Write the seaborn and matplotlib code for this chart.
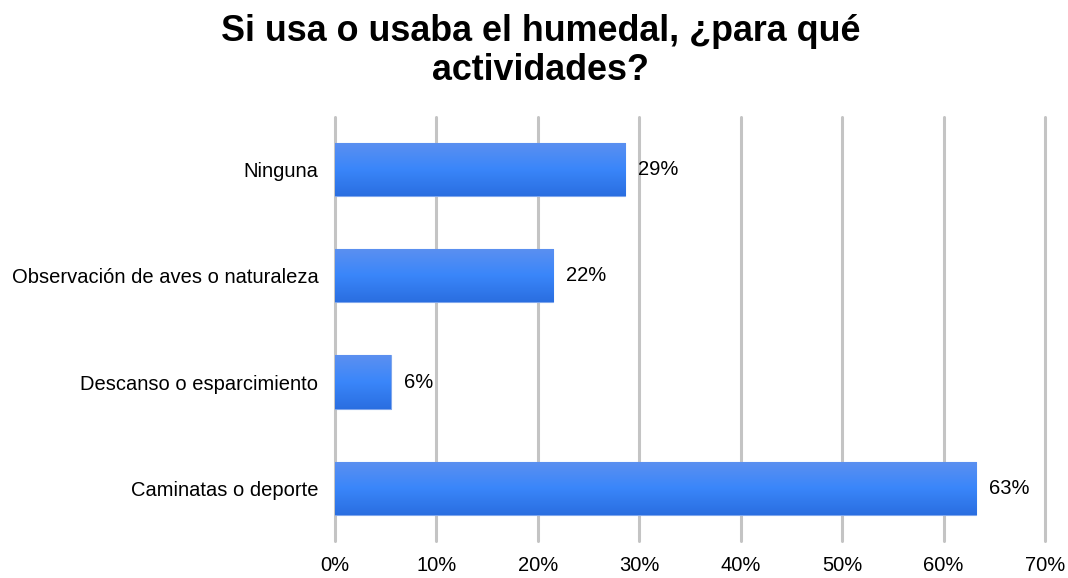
import matplotlib
matplotlib.use("Agg")
import matplotlib.pyplot as plt
import seaborn as sns
import numpy as np
import pandas as pd
from matplotlib.colors import LinearSegmentedColormap

categories = ["Ninguna", "Observación de aves o naturaleza", "Descanso o esparcimiento", "Caminatas o deporte"]
values = [28.6, 21.5, 5.5, 63.2]
labels = ["29%", "22%", "6%", "63%"]
xticks = [0, 10, 20, 30, 40, 50, 60, 70]
xticklabels = ["0%", "10%", "20%", "30%", "40%", "50%", "60%", "70%"]
title = "Si usa o usaba el humedal, ¿para qué\nactividades?"

sns.set_theme(style="white")
plt.rcParams['font.family'] = ['Liberation Sans', 'DejaVu Sans']

df = pd.DataFrame({"cat": categories, "val": values})

fig = plt.figure(figsize=(10.68, 5.78), dpi=100)
ax = fig.add_axes([0.3137, 0.064, 0.9785 - 0.3137, 0.7976 - 0.064])

sns.barplot(data=df, x="val", y="cat", ax=ax, color="#3a84f8", width=0.5,
            edgecolor="#7fa6ec", linewidth=0.8, zorder=3)

cmap = LinearSegmentedColormap.from_list("g", ["#2a6ee0", "#3a86fa", "#5c90f0"])
grad = np.linspace(0, 1, 256).reshape(-1, 1)
for p in ax.patches:
    x0, y0 = p.get_x(), p.get_y()
    w, h = p.get_width(), p.get_height()
    im = ax.imshow(grad, extent=[x0, x0 + w, y0 + h, y0], cmap=cmap, aspect="auto",
                   origin="lower", zorder=3.5)
    im.set_clip_path(p)

ax.set_xlim(0, 70)
ax.set_ylim(3.5, -0.5)
ax.set_xticks(xticks)
ax.set_xticklabels(xticklabels, fontsize=14.5, color="#000000")
ax.tick_params(axis="x", length=0, pad=11)
ax.tick_params(axis="y", length=0, pad=12, labelsize=14.5, labelcolor="#000000")
ax.set_xlabel("")
ax.set_ylabel("")
for s in ax.spines.values():
    s.set_visible(False)
for t in xticks:
    ax.axvline(t, color="#c4c4c4", lw=2.2, zorder=1, clip_on=False)

for i, (v, lab) in enumerate(zip(values, labels)):
    ax.text(v + 1.3, i, lab, va="center", ha="left", fontsize=14.5, color="#000000", zorder=5)

fig.text(0.506, 0.975, title, ha="center", va="top", fontsize=25.8, fontweight="bold",
         linespacing=1.12, color="#000000")

fig.savefig("out.png", dpi=100, facecolor="white")
